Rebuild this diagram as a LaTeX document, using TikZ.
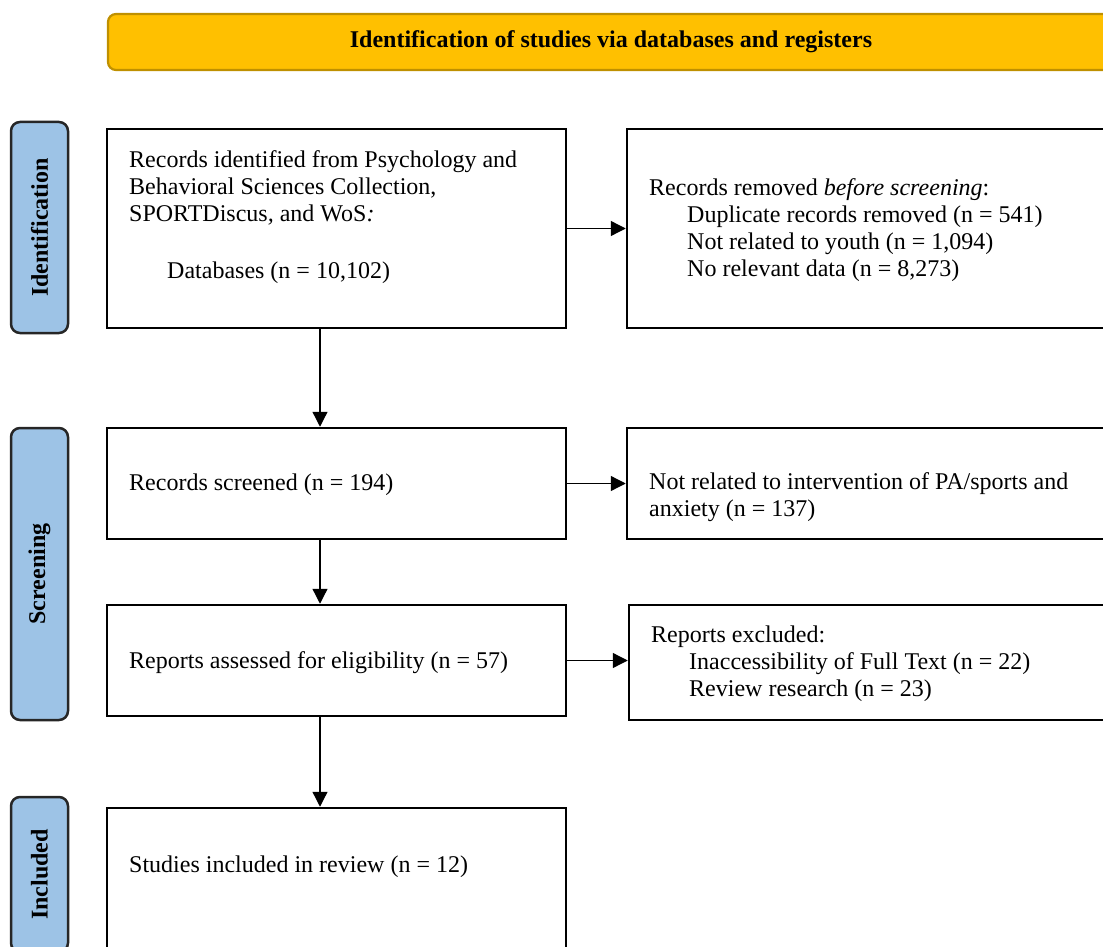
\documentclass[tikz,border=0pt]{standalone}
\usepackage{fontspec}
\setmainfont{Liberation Serif}
\usetikzlibrary{arrows.meta,positioning,calc}
\definecolor{cGold}{HTML}{FFC000}
\definecolor{cGoldDark}{HTML}{BF9000}
\definecolor{cSky}{HTML}{9DC3E6}

\begin{document}
\begin{tikzpicture}[
 x=1pt,y=-1pt,font=\fontsize{24}{27}\selectfont,
 box/.style={draw=black,line width=2.5pt,fill=white,inner sep=0pt},
 phase/.style={draw=black!85,line width=2.5pt,fill=cSky,rounded corners=9pt,
   inner sep=0pt,rotate=90,minimum height=57pt,
   font=\fontsize{24}{27}\selectfont\bfseries},
 txt/.style={anchor=west,align=left,inner sep=0pt},
 wire/.style={draw=black,line width=1.3pt,-{Triangle[length=15pt,width=15pt]}},
 head/.style={draw=cGoldDark,line width=2.2pt,fill=cGold,rounded corners=8pt,
   minimum width=1006pt,minimum height=56pt,font=\fontsize{24}{27}\selectfont\bfseries}]
\useasboundingbox (0,0) rectangle (1103,947);
\clip (0,0) rectangle (1103,947);

\node[head] (banner) at (611,42) {\raisebox{-2pt}{Identification of studies via databases and registers}};

% phase labels
\node[phase,minimum width=211pt] (pId) at (39.5,227.5) {Identification};
\node[phase,minimum width=292pt] (pScr) at (39.5,574) {Screening};
\node[phase,minimum width=155pt] (pInc) at (39.5,874.5) {Included};

% main column
\node[box,minimum width=459pt,minimum height=199pt] (b1) at (336.5,228.5) {};
\node[box,minimum width=459pt,minimum height=111pt] (b2) at (336.5,483.5) {};
\node[box,minimum width=459pt,minimum height=111pt] (b3) at (336.5,660.5) {};
\node[box,minimum width=459pt,minimum height=192pt] (b4) at (336.5,904) {};

% side column
\node[box,minimum width=493pt,minimum height=199pt] (r1) at (873.5,228.5) {};
\node[box,minimum width=493pt,minimum height=111pt] (r2) at (873.5,483.5) {};
\node[box,minimum width=491pt,minimum height=115pt] (r3) at (874.5,662.5) {};

\node[txt] (t1) at (129,217) {Records identified from Psychology and\\
  Behavioral Sciences Collection,\\
  SPORTDiscus\textit{,} and WoS\textit{:}\\[30pt]
  \hspace*{38pt}Databases (n = 10,102)};
\node[txt] (t2) at (129,485) {Records screened (n = 194)};
\node[txt] (t3) at (129,663) {Reports assessed for eligibility (n = 57)};
\node[txt] (t4) at (129,867) {Studies included in review (n = 12)};

\node[txt] (s1) at (649,230) {Records removed \textit{before screening}:\\
  \hspace*{38pt}Duplicate records removed (n = 541)\\
  \hspace*{38pt}Not related to youth (n = 1,094)\\
  \hspace*{38pt}No relevant data (n = 8,273)};
\node[txt] (s2) at (649,497) {Not related to intervention of PA/sports and\\
  anxiety (n = 137)};
\node[txt] (s3) at (651,664) {Reports excluded:\\
  \hspace*{38pt}Inaccessibility of Full Text (n = 22)\\
  \hspace*{38pt}Review research (n = 23)};

% connectors
\coordinate (spine) at (320,0);
\draw[wire] (b1.south -| spine) -- (b2.north -| spine);
\draw[wire] (b2.south -| spine) -- (b3.north -| spine);
\draw[wire] (b3.south -| spine) -- (b4.north -| spine);
\draw[wire] (b1.east) -- (r1.west);
\draw[wire] (b2.east) -- (r2.west);
\draw[wire] (b3.east) -- (b3.east -| r3.west);
\end{tikzpicture}
\end{document}
